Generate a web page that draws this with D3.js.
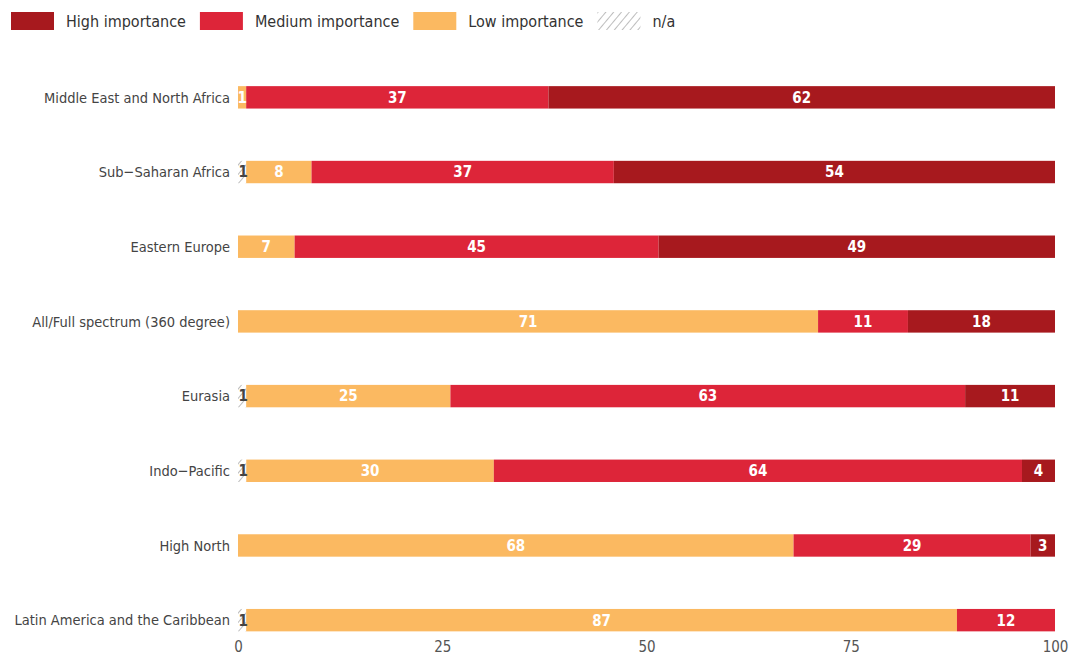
<!DOCTYPE html>
<html>
<head>
<meta charset="utf-8">
<script src="https://cdn.jsdelivr.net/npm/d3@7"></script>
<style>
  body { margin: 0; background: #fff; }
  text { font-family: "Liberation Sans Narrow", "DejaVu Sans Condensed", "Roboto", sans-serif; }
</style>
</head>
<body>
<div id="chart"></div>
<script>
// Chart data (percent of respondents)
const categories = [
    "Middle East and North Africa",
    "Sub\u2212Saharan Africa",
    "Eastern Europe",
    "All/Full spectrum (360 degree)",
    "Eurasia",
    "Indo\u2212Pacific",
    "High North",
    "Latin America and the Caribbean"
];
const naValues     = [0, 1, 0, 0, 1, 1, 0, 1];
const lowValues    = [1, 8, 7, 71, 25, 30, 68, 87];
const mediumValues = [37, 37, 45, 11, 63, 64, 29, 12];
const highValues   = [62, 54, 49, 18, 11, 4, 3, 0];
const xTicks = [0, 25, 50, 75, 100];

const keys = ["na", "low", "medium", "high"];
const legendItems = [
    {key: "high", label: "High importance"},
    {key: "medium", label: "Medium importance"},
    {key: "low", label: "Low importance"},
    {key: "na", label: "n/a"}
];

const data = categories.map((c, i) => ({
    category: c,
    na: naValues[i],
    low: lowValues[i],
    medium: mediumValues[i],
    high: highValues[i]
}));

const width = 1070;
const height = 656;
const margin = {top: 60, right: 15, bottom: 0, left: 238};

const color = {high: "#a7191e", medium: "#dd2539", low: "#fbb961"};

const svg = d3.select("#chart")
    .append("svg")
    .attr("width", width)
    .attr("height", height);

// Hatch pattern for n/a
const defs = svg.append("defs");
const pattern = defs.append("pattern")
    .attr("id", "hatch")
    .attr("patternUnits", "userSpaceOnUse")
    .attr("width", 6)
    .attr("height", 6)
    .attr("patternTransform", "rotate(40)");
pattern.append("line")
    .attr("x1", 0).attr("y1", 0)
    .attr("x2", 0).attr("y2", 6)
    .attr("stroke", "#a0a0a0")
    .attr("stroke-width", 1.4);

const xScale = d3.scaleLinear()
    .domain([0, 1])
    .range([margin.left, width - margin.right]);

const yScale = d3.scaleBand()
    .domain(categories)
    .range([margin.top, 657.5])
    .paddingInner(0.7)
    .paddingOuter(0.35);

const series = d3.stack()
    .keys(keys)
    .offset(d3.stackOffsetExpand)(data);

const fillFor = key => key === "na" ? "url(#hatch)" : color[key];

// Bars
const groups = svg.selectAll("g.series")
    .data(series)
    .join("g")
    .attr("class", "series")
    .attr("fill", d => fillFor(d.key));

groups.selectAll("rect")
    .data(d => d)
    .join("rect")
    .attr("x", d => xScale(d[0]))
    .attr("y", d => yScale(d.data.category))
    .attr("width", d => Math.max(0, xScale(d[1]) - xScale(d[0])))
    .attr("height", yScale.bandwidth());

// Value labels
series.forEach(s => {
    svg.append("g")
        .selectAll("text")
        .data(s.filter(d => d.data[s.key] > 0))
        .join("text")
        .attr("x", d => (xScale(d[0]) + xScale(d[1])) / 2 + (s.key === "na" ? 1 : 0))
        .attr("y", d => yScale(d.data.category) + yScale.bandwidth() / 2)
        .attr("dy", "0.36em")
        .attr("text-anchor", "middle")
        .attr("fill", s.key === "na" ? "#444" : "#fff")
        .style("font-size", "15px")
        .style("font-weight", "bold")
        .text(d => d.data[s.key]);
});

// Category labels
svg.append("g")
    .selectAll("text")
    .data(categories)
    .join("text")
    .attr("x", margin.left - 8)
    .attr("y", d => yScale(d) + yScale.bandwidth() / 2)
    .attr("dy", "0.36em")
    .attr("text-anchor", "end")
    .attr("fill", "#444")
    .style("font-size", "14.5px")
    .text(d => d);

// X axis (labels only)
const xAxis = svg.append("g")
    .attr("transform", "translate(0,641)")
    .call(d3.axisBottom(d3.scaleLinear().domain([0, 100]).range(xScale.range()))
        .tickValues(xTicks)
        .tickSize(0)
        .tickPadding(0)
        .tickFormat(d3.format("d")));
xAxis.select(".domain").remove();
xAxis.selectAll("text")
    .attr("fill", "#555")
    .style("font-size", "15px")
    .style("font-family", "\"Liberation Sans Narrow\", \"DejaVu Sans Condensed\", sans-serif");

// Legend
const legend = svg.append("g").attr("transform", "translate(11,12)");
let lx = 0;
legendItems.forEach(item => {
    const g = legend.append("g").attr("transform", `translate(${lx},0)`);
    g.append("rect")
        .attr("width", 43)
        .attr("height", 18)
        .attr("fill", fillFor(item.key));
    const t = g.append("text")
        .attr("x", 55)
        .attr("y", 9)
        .attr("dy", "0.36em")
        .attr("fill", "#333")
        .style("font-size", "16px")
        .text(item.label);
    lx += 55 + t.node().getComputedTextLength() + 14;
});
</script>
</body>
</html>
